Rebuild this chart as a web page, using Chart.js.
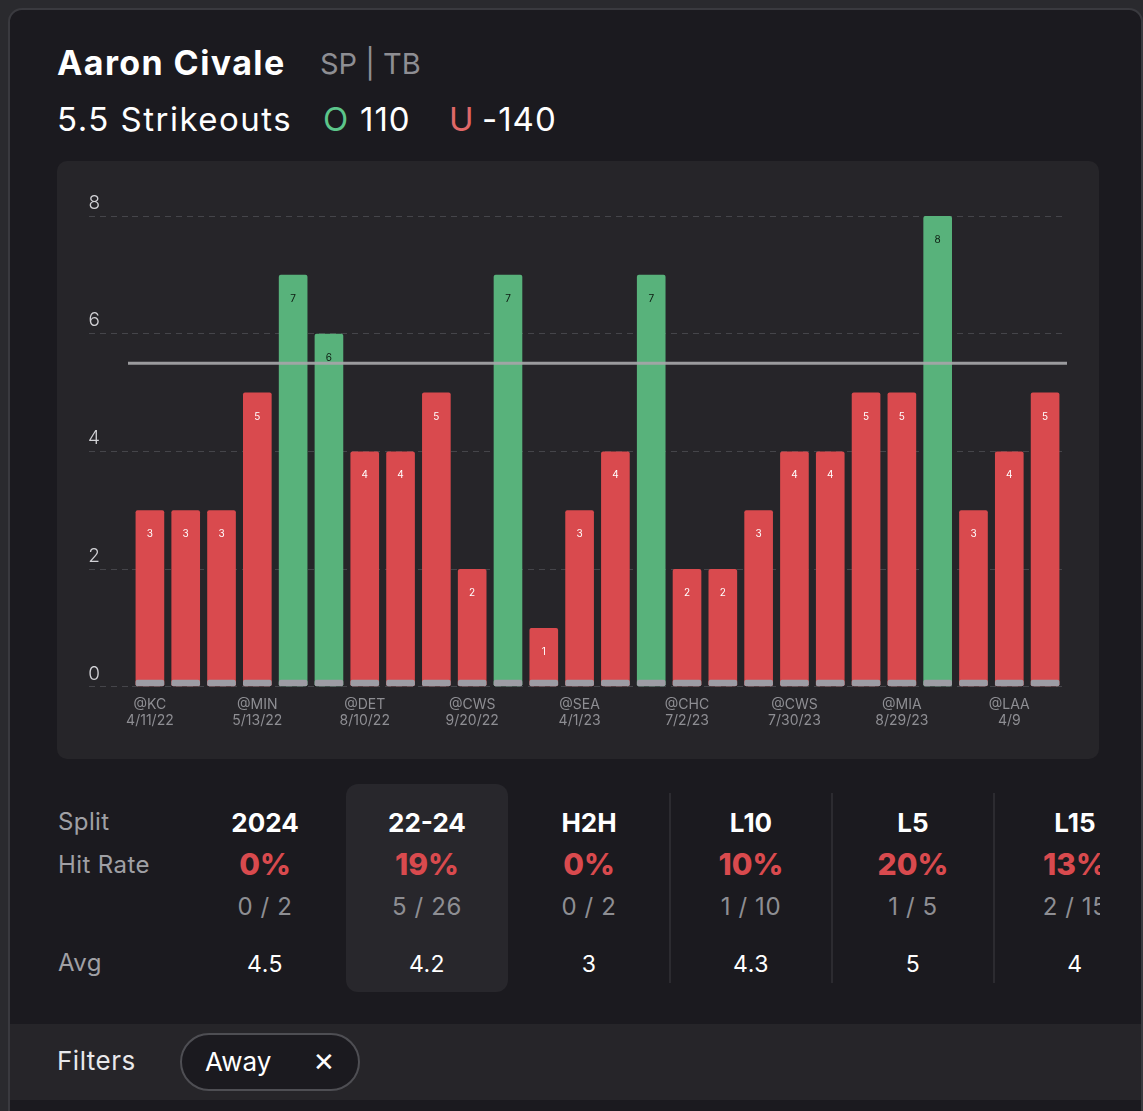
<!DOCTYPE html>
<html>
<head>
<meta charset="utf-8">
<script src="https://cdn.jsdelivr.net/npm/chart.js@4.4.1/dist/chart.umd.min.js"></script>
<style>
  body { margin: 0; width: 1143px; height: 1111px; overflow: hidden; background: #2a2a2e; font-family: Inter, "Noto Sans", sans-serif; }
  .frame { position: absolute; left: 8px; top: 8px; width: 1131px; height: 1120px; border: 2px solid #3a3a3f; border-radius: 14px; background: #1b1a1f; overflow: hidden; }
  .abs { position: absolute; white-space: nowrap; }
  .title { left: 47px; top: 32px; font-size: 34px; font-weight: 700; color: #fff; letter-spacing: 1.4px; }
  .pos { left: 310px; top: 36px; font-size: 29px; color: #8e8e93; }
  .line2 { top: 89px; font-size: 33px; color: #fff; letter-spacing: 1px; }
  .chartCard { position: absolute; left: 47px; top: 151px; width: 1042px; height: 598px; background: #262529; border-radius: 10px; }
  .split { position: absolute; left: 0; top: 756px; width: 1090px; height: 250px; overflow: hidden; }
  .rowlbl { left: 48px; font-size: 24px; color: #a0a0a5; letter-spacing: 0.4px; }
  .col { position: absolute; width: 162px; text-align: center; }
  .col div { position: absolute; left: 0; width: 162px; text-align: center; white-space: nowrap; }
  .hi { background: #28272c; border-radius: 12px; }
  .hdr { top: 23px; font-size: 26px; font-weight: 700; color: #fff; }
  .pct { top: 62px; font-size: 30px; font-weight: 800; color: #d94a4e; }
  .frac { top: 108px; font-size: 24px; color: #8e8e93; letter-spacing: 0.6px; }
  .avg { top: 166px; font-size: 23px; color: #fff; letter-spacing: 0.5px; }
  .divider { position: absolute; width: 2px; height: 190px; background: #2c2b30; }
  .filters { position: absolute; left: 0; top: 1014px; width: 1140px; height: 76px; background: #262529; }
  .flabel { left: 47px; top: 21px; font-size: 26px; color: #e8e8ea; letter-spacing: 0.5px; }
  .pill { position: absolute; left: 170px; top: 9px; width: 176px; height: 54px; border: 2px solid #4e4e53; border-radius: 30px; background: #1b1a1f; }
  .pill span { position: absolute; top: 11px; font-size: 26px; color: #fff; }
</style>
</head>
<body>
<div class="frame">
  <div class="abs title">Aaron Civale</div>
  <div class="abs pos">SP | TB</div>
  <div class="abs line2" style="left:47px;letter-spacing:1.5px">5.5 Strikeouts</div>
  <div class="abs line2" style="left:313px;color:#5cc58a">O</div>
  <div class="abs line2" style="left:350px">110</div>
  <div class="abs line2" style="left:439px;color:#e06868">U</div>
  <div class="abs line2" style="left:472px">-140</div>

  <div class="chartCard"><canvas id="koChart" width="1042" height="598"></canvas></div>

  <div class="split" id="split">
    <div class="abs rowlbl" style="top:41px">Split</div>
    <div class="abs rowlbl" style="top:84px">Hit Rate</div>
    <div class="abs rowlbl" style="top:182px">Avg</div>
  </div>

  <div class="filters">
    <div class="abs flabel">Filters</div>
    <div class="pill"><span style="left:23px">Away</span><span style="left:131px">&#x2715;</span></div>
  </div>
</div>

<script>
// strikeouts per away start, oldest first
const opponents = ['@KC', '', '', '@MIN', '', '', '@DET', '', '', '@CWS', '', '', '@SEA', '', '', '@CHC', '', '', '@CWS', '', '', '@MIA', '', '', '@LAA', ''];
const gameDates = ['4/11/22', '', '', '5/13/22', '', '', '8/10/22', '', '', '9/20/22', '', '', '4/1/23', '', '', '7/2/23', '', '', '7/30/23', '', '', '8/29/23', '', '', '4/9', ''];
const strikeouts = [3, 3, 3, 5, 7, 6, 4, 4, 5, 2, 7, 1, 3, 4, 7, 2, 2, 3, 4, 4, 5, 5, 8, 3, 4, 5];
const propLine = 5.5;
const yTicks = [0, 2, 4, 6, 8];

// split table
const splitNames = ['2024', '22-24', 'H2H', 'L10', 'L5', 'L15'];
const hitRates = ['0%', '19%', '0%', '10%', '20%', '13%'];
const hitCounts = ['0 / 2', '5 / 26', '0 / 2', '1 / 10', '1 / 5', '2 / 15'];
const splitAvgs = ['4.5', '4.2', '3', '4.3', '5', '4'];
const selectedSplit = 1;

const RED = '#d94a4e';
const GREEN = '#58b27b';
const BASE_STRIP = 0.12;

const split = document.getElementById('split');
splitNames.forEach((name, i) => {
  const col = document.createElement('div');
  col.className = 'col' + (i === selectedSplit ? ' hi' : '');
  col.style.left = (174 + i * 162) + 'px';
  col.style.top = '18px';
  col.style.height = '208px';
  col.innerHTML = '<div class="hdr">' + name + '</div><div class="pct">' + hitRates[i] +
    '</div><div class="frac">' + hitCounts[i] + '</div><div class="avg">' + splitAvgs[i] + '</div>';
  split.appendChild(col);
  if (i >= 3) {
    const d = document.createElement('div');
    d.className = 'divider';
    d.style.left = (174 + i * 162 - 1) + 'px';
    d.style.top = '27px';
    split.appendChild(d);
  }
});

const labels = opponents.map((o, i) => o ? [o, gameDates[i]] : '');

const lineAndValues = {
  id: 'lineAndValues',
  afterDatasetsDraw(chart) {
    const ctx = chart.ctx;
    const area = chart.chartArea;
    const y = chart.scales.y.getPixelForValue(propLine);
    ctx.save();
    ctx.strokeStyle = 'rgba(165,165,168,0.92)';
    ctx.lineWidth = 3;
    ctx.beginPath();
    ctx.moveTo(area.left - 4, y);
    ctx.lineTo(area.right + 4, y);
    ctx.stroke();

    const meta = chart.getDatasetMeta(0);
    ctx.font = '10px Inter, sans-serif';
    ctx.textAlign = 'center';
    ctx.textBaseline = 'middle';
    meta.data.forEach((bar, i) => {
      ctx.fillStyle = strikeouts[i] > propLine ? '#0c1a10' : '#ffffff';
      ctx.fillText(String(strikeouts[i]), bar.x, bar.y + 24);
    });
    ctx.restore();
  }
};

new Chart(document.getElementById('koChart'), {
  type: 'bar',
  data: {
    labels: labels,
    datasets: [{
      label: 'Strikeouts',
      data: strikeouts,
      backgroundColor: strikeouts.map(v => v > propLine ? GREEN : RED),
      borderRadius: 2,
      borderSkipped: false,
      barPercentage: 0.8,
      categoryPercentage: 1,
      order: 1
    }, {
      label: 'base',
      data: strikeouts.map(() => BASE_STRIP),
      backgroundColor: '#9d9ca4',
      borderRadius: 2,
      borderSkipped: false,
      barPercentage: 0.8,
      categoryPercentage: 1,
      order: 0
    }]
  },
  options: {
    responsive: false,
    animation: false,
    layout: {
      padding: { top: 55, right: 36, bottom: 20, left: 0 }
    },
    plugins: {
      legend: { display: false },
      tooltip: { enabled: false }
    },
    scales: {
      x: {
        stacked: true,
        grid: { display: false, drawTicks: false },
        border: { display: false },
        ticks: {
          autoSkip: false,
          maxRotation: 0,
          padding: 10,
          color: '#8e8e93',
          font: { family: 'Inter, sans-serif', size: 14, lineHeight: 1.15 }
        }
      },
      y: {
        min: 0,
        max: 8,
        afterFit(scale) { scale.width = 75; },
        afterBuildTicks(scale) { scale.ticks = yTicks.map(v => ({ value: v })); },
        grid: {
          color: '#45454a',
          lineWidth: 1,
          tickLength: 43,
          tickColor: '#45454a',
          tickBorderDash: [6, 5],
          drawTicks: true
        },
        border: { display: false, dash: [6, 5] },
        ticks: {
          padding: -11,
          labelOffset: -13,
          color: '#d2d2d6',
          font: { family: 'Inter, sans-serif', size: 19, weight: 300 }
        }
      }
    }
  },
  plugins: [lineAndValues]
});
</script>
</body>
</html>
